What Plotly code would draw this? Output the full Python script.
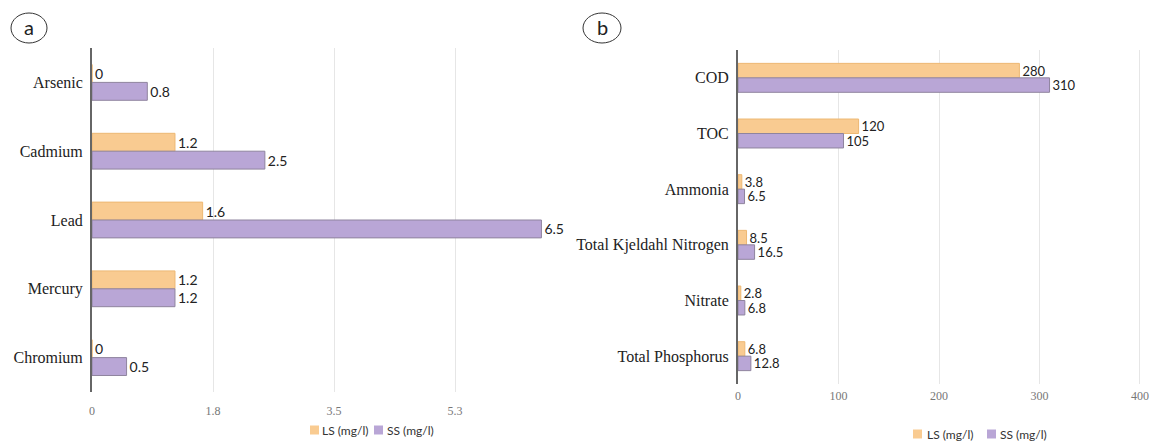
import plotly.graph_objects as go

W, H = 1151, 441

# Panel a: heavy metals
metals = ["Arsenic", "Cadmium", "Lead", "Mercury", "Chromium"]
metals_ls = [0, 1.2, 1.6, 1.2, 0]
metals_ss = [0.8, 2.5, 6.5, 1.2, 0.5]
metals_ticks = [0, 1.75, 3.5, 5.25]
metals_ticktext = ["0", "1.8", "3.5", "5.3"]

# Panel b: organics and nutrients
params = ["COD", "TOC", "Ammonia", "Total Kjeldahl Nitrogen", "Nitrate", "Total Phosphorus"]
params_ls = [280, 120, 3.8, 8.5, 2.8, 6.8]
params_ss = [310, 105, 6.5, 16.5, 6.8, 12.8]
params_ticks = [0, 100, 200, 300, 400]

LS_NAME = "LS (mg/l)"
SS_NAME = "SS (mg/l)"
LS_COLOR = "#F9CB91"
SS_COLOR = "#B9A6D6"
LS_EDGE = "#EDB873"
SS_EDGE = "#8F849E"

CAT_FONT = dict(family="Liberation Serif, Times New Roman, serif", size=16, color="#222")
TICK_FONT = dict(family="Liberation Serif, Times New Roman, serif", size=12, color="#777")
LEG_FONT = dict(family="Lato, Open Sans, sans-serif", size=12, color="#333")


def val_font(size):
    return dict(family="Lato, Open Sans, sans-serif", size=size, color="#222")


def px_x(x):
    return x / W


def px_y(y):
    return 1 - y / H


fig = go.Figure()


def add_pair(cats, ls, ss, xa, ya, fsize):
    for name, vals, col, edge in ((LS_NAME, ls, LS_COLOR, LS_EDGE), (SS_NAME, ss, SS_COLOR, SS_EDGE)):
        fig.add_trace(go.Bar(
            y=cats, x=vals, orientation="h", name=name,
            marker=dict(color=col, line=dict(color=edge, width=1)),
            text=[f"{v:g}" for v in vals], textposition="outside",
            textfont=val_font(fsize), cliponaxis=False, constraintext="none",
            xaxis=xa, yaxis=ya, showlegend=False,
        ))


add_pair(metals, metals_ls, metals_ss, "x", "y", 14)
add_pair(params, params_ls, params_ss, "x2", "y2", 13)

axis_common = dict(showgrid=True, gridcolor="#E6E6E6", gridwidth=1, zeroline=False,
                   showline=False, tickfont=TICK_FONT, ticks="", automargin=False, fixedrange=True)
yaxis_common = dict(showgrid=False, zeroline=False, showline=True, linecolor="#666",
                    linewidth=2, tickfont=CAT_FONT, ticks="", autorange="reversed",
                    automargin=False, ticklabelstandoff=4)

fig.update_layout(
    width=W, height=H,
    margin=dict(l=0, r=0, t=0, b=0, autoexpand=False),
    paper_bgcolor="white", plot_bgcolor="white",
    barmode="group", bargap=0.48, bargroupgap=0,
    xaxis=dict(domain=[px_x(92), px_x(576)], range=[0, 7], tickvals=metals_ticks,
               ticktext=metals_ticktext, anchor="y", ticklabelstandoff=10, **axis_common),
    yaxis=dict(domain=[px_y(392), px_y(48)], anchor="x", **yaxis_common),
    xaxis2=dict(domain=[px_x(738), px_x(1142)], range=[0, 402], tickvals=params_ticks,
                anchor="y2", ticklabelstandoff=3, **axis_common),
    yaxis2=dict(domain=[px_y(384), px_y(50)], anchor="x2", **yaxis_common),
    showlegend=False,
)

# Legend keys under each panel: (square left edge, text left edge) per series, and row centre
legend_rows = [
    (430, [(310, 321, LS_NAME, LS_COLOR), (374, 386, SS_NAME, SS_COLOR)]),
    (434, [(913, 926, LS_NAME, LS_COLOR), (987, 999, SS_NAME, SS_COLOR)]),
]
for yc, items in legend_rows:
    for sx, tx, label, col in items:
        fig.add_shape(type="rect", xref="paper", yref="paper",
                      x0=px_x(sx), x1=px_x(sx + 9), y0=px_y(yc + 4.5), y1=px_y(yc - 4.5),
                      fillcolor=col, line=dict(width=0))
        fig.add_annotation(text=label, xref="paper", yref="paper",
                           x=px_x(tx), y=px_y(yc), xanchor="left", yanchor="middle",
                           showarrow=False, font=LEG_FONT, borderpad=0)

# Panel letters in circles
for letter, x0, x1 in (("a", 11, 47), ("b", 583, 621)):
    fig.add_shape(type="circle", xref="paper", yref="paper",
                  x0=px_x(x0), x1=px_x(x1), y0=px_y(43), y1=px_y(13),
                  line=dict(color="#333", width=1))
    fig.add_annotation(text=letter, xref="paper", yref="paper",
                       x=px_x((x0 + x1) / 2), y=px_y(27), xanchor="center", yanchor="middle",
                       showarrow=False,
                       font=dict(family="Lato, Open Sans, sans-serif", size=20, color="#222"))

fig.write_html("out.html")
